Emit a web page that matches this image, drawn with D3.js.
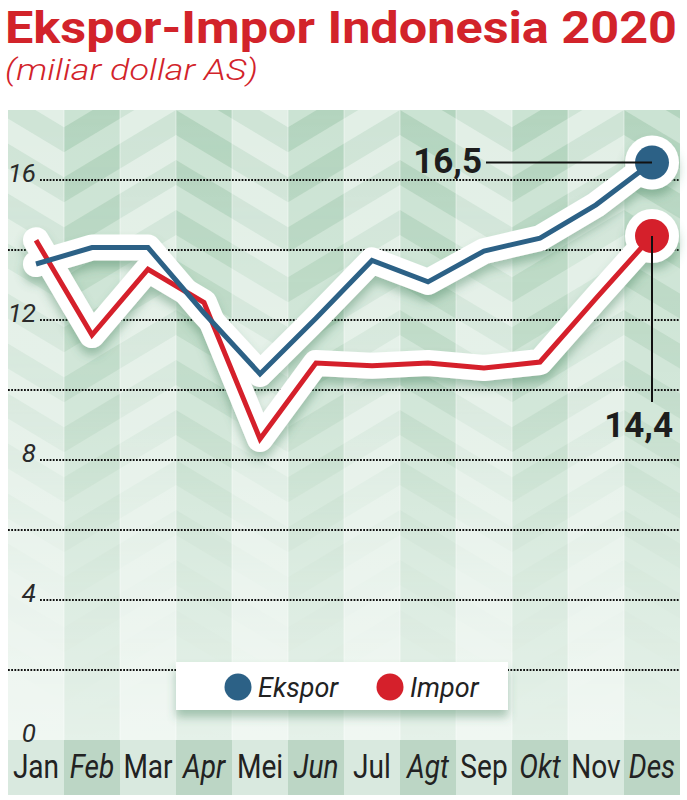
<!DOCTYPE html>
<html><head><meta charset="utf-8">
<script src="https://cdn.jsdelivr.net/npm/d3@7"></script>
<style>html,body{margin:0;padding:0;background:#fff;}svg{display:block;}</style>
</head><body>
<script>
// ---- data ----
const months = ["Jan","Feb","Mar","Apr","Mei","Jun","Jul","Agt","Sep","Okt","Nov","Des"];
const ekspor = [13.6, 14.07, 14.07, 12.2, 10.46, 12.05, 13.7, 13.09, 13.97, 14.34, 15.29, 16.5];
const impor  = [14.28, 11.57, 13.45, 12.5, 8.6, 10.77, 10.69, 10.77, 10.63, 10.8, 12.62, 14.4];
const yTickLabels = [0, 4, 8, 12, 16];
const yGrid = [2, 4, 6, 8, 10, 12, 14, 16];
const seriesNames = ["Ekspor", "Impor"];
const title = "Ekspor-Impor Indonesia 2020";
const subtitle = "(miliar dollar AS)";

const W = 687, H = 800;
const blue = "#2c6186", red = "#d5202b", titleRed = "#d2232a";
const svg = d3.select("body").append("svg").attr("width", W).attr("height", H);
const defs = svg.append("defs");

const x = d3.scaleBand().domain(months).range([8, 680]).padding(0);
const y = d3.scaleLinear().domain([0, 18]).range([740, 110]);
const cx = m => x(m) + x.bandwidth() / 2;

// title
svg.append("text").attr("x", 5).attr("y", 43).text(title)
  .attr("font-family", "Roboto").attr("font-weight", 700).attr("font-size", 45)
  .attr("fill", titleRed).attr("textLength", 672).attr("lengthAdjust", "spacingAndGlyphs");
svg.append("text").attr("x", 5).attr("y", 80).text(subtitle)
  .attr("font-family", "Roboto").attr("font-style", "italic").attr("font-weight", 300).attr("font-size", 30)
  .attr("fill", titleRed).attr("textLength", 253).attr("lengthAdjust", "spacingAndGlyphs");

// ---- background ----
const x0 = x.range()[0], x1 = x.range()[1], yTop = y(18), yBot = y(0);
const pat = defs.append("pattern").attr("id", "chev").attr("patternUnits", "userSpaceOnUse")
  .attr("width", 224).attr("height", 50).attr("x", 64).attr("y", yTop);
const s = 0.6, t = 25, half = 112, rise = half * s;
for (let k = -3; k <= 2; k++) {
  const y0 = k * 50;
  pat.append("path").attr("d",
    `M0,${rise + y0} L${half},${y0} L224,${rise + y0} L224,${rise + y0 + t} L${half},${y0 + t} L0,${rise + y0 + t} Z`)
    .attr("fill", "#7fb494").attr("fill-opacity", 0.32);
}
const fade = defs.append("linearGradient").attr("id", "fade").attr("gradientUnits", "userSpaceOnUse")
  .attr("x1", 0).attr("x2", 0).attr("y1", yTop).attr("y2", yBot);
fade.append("stop").attr("offset", "0%").attr("stop-color", "#fff").attr("stop-opacity", 1);
fade.append("stop").attr("offset", "45%").attr("stop-color", "#fff").attr("stop-opacity", 0.7);
fade.append("stop").attr("offset", "75%").attr("stop-color", "#fff").attr("stop-opacity", 0.15);
fade.append("stop").attr("offset", "100%").attr("stop-color", "#fff").attr("stop-opacity", 0);
const mask = defs.append("mask").attr("id", "fadeMask");
mask.append("rect").attr("x", x0).attr("y", yTop).attr("width", x1 - x0).attr("height", yBot - yTop).attr("fill", "url(#fade)");

const wash = defs.append("linearGradient").attr("id", "wash").attr("gradientUnits", "userSpaceOnUse")
  .attr("x1", 0).attr("x2", 0).attr("y1", yTop).attr("y2", yBot);
wash.append("stop").attr("offset", "0%").attr("stop-color", "#fff").attr("stop-opacity", 0);
wash.append("stop").attr("offset", "50%").attr("stop-color", "#fff").attr("stop-opacity", 0.15);
wash.append("stop").attr("offset", "100%").attr("stop-color", "#fff").attr("stop-opacity", 0.5);

const bg = svg.append("g");
bg.append("rect").attr("x", x0).attr("y", yTop).attr("width", x1 - x0).attr("height", yBot - yTop).attr("fill", "#d6e9dc");
bg.append("rect").attr("x", x0).attr("y", yTop).attr("width", x1 - x0).attr("height", yBot - yTop)
  .attr("fill", "url(#chev)").attr("mask", "url(#fadeMask)");
bg.selectAll("rect.col").data(months).join("rect").attr("class", "col")
  .attr("x", d => x(d)).attr("y", yTop).attr("width", x.bandwidth()).attr("height", yBot - yTop)
  .attr("fill", (d, i) => i % 2 ? "#8fbf9f" : "#ffffff")
  .attr("fill-opacity", (d, i) => i % 2 ? 0.14 : 0.3);
bg.append("rect").attr("x", x0).attr("y", yTop).attr("width", x1 - x0).attr("height", yBot - yTop).attr("fill", "url(#wash)");
bg.selectAll("line.sep").data(months.slice(1)).join("line").attr("class", "sep")
  .attr("x1", d => x(d)).attr("x2", d => x(d)).attr("y1", yTop).attr("y2", yBot)
  .attr("stroke", "#fff").attr("stroke-opacity", 0.45).attr("stroke-width", 1);

// bottom month band
const band = svg.append("g");
band.selectAll("rect").data(months).join("rect")
  .attr("x", d => x(d)).attr("y", yBot).attr("width", x.bandwidth()).attr("height", 55)
  .attr("fill", (d, i) => i % 2 ? "#bcd6c5" : "#d9e9df");
band.selectAll("text").data(months).join("text")
  .attr("transform", d => `translate(${cx(d)},778) scale(0.85,1)`)
  .attr("text-anchor", "middle").attr("font-family", "Roboto").attr("font-size", 33)
  .attr("font-style", (d, i) => i % 2 ? "italic" : "normal").attr("fill", "#222").text(d => d);

// grid lines
const grid = svg.append("g");
grid.selectAll("line").data(yGrid).join("line")
  .attr("x1", d => yTickLabels.includes(d) ? 40 : x0).attr("x2", x1)
  .attr("y1", d => y(d)).attr("y2", d => y(d))
  .attr("stroke", "#111").attr("stroke-width", 2).attr("stroke-dasharray", "1.8,1.4");
const yAxis = d3.axisLeft(y).tickValues(yTickLabels).tickSize(0).tickFormat(d3.format("d"));
const ya = svg.append("g").attr("transform", "translate(36,0)").call(yAxis);
ya.select(".domain").remove();
ya.selectAll("text").attr("font-family", "Roboto").attr("font-style", "italic").attr("font-weight", 400)
  .attr("font-size", 26).attr("fill", "#2a2a2a").attr("dy", "0.05em").attr("x", 0);

// legend + shadow
const shadow = defs.append("filter").attr("id", "shadow").attr("x", "-20%").attr("y", "-20%").attr("width", "140%").attr("height", "160%");
shadow.append("feDropShadow").attr("dx", 0).attr("dy", 7).attr("stdDeviation", 5)
  .attr("flood-color", "#3f7d5a").attr("flood-opacity", 0.4);
const lg = svg.append("g");
lg.append("rect").attr("x", 176).attr("y", 662).attr("width", 332).attr("height", 48).attr("fill", "#fff").attr("filter", "url(#shadow)");
const legendX = [238, 390];
seriesNames.forEach((n, i) => {
  lg.append("circle").attr("cx", legendX[i]).attr("cy", 687).attr("r", 13.5).attr("fill", i ? red : blue);
  lg.append("text").attr("x", legendX[i] + 20).attr("y", 697).text(n)
    .attr("font-family", "Roboto").attr("font-style", "italic").attr("font-size", 27).attr("fill", "#222");
});

// lines
const line = d3.line().x((d, i) => cx(months[i])).y(d => y(d));
const halos = svg.append("g").attr("filter", "url(#shadow)");
[impor, ekspor].forEach(data => {
  halos.append("path").attr("d", line(data)).attr("fill", "none").attr("stroke", "#fff")
    .attr("stroke-width", 26).attr("stroke-linejoin", "round").attr("stroke-linecap", "round");
});
[impor, ekspor].forEach(data => {
  halos.append("circle").attr("cx", cx(months[11])).attr("cy", y(data[11])).attr("r", 27).attr("fill", "#fff");
});
[[impor, red], [ekspor, blue]].forEach(([data, c]) => {
  svg.append("path").attr("d", line(data)).attr("fill", "none").attr("stroke", c)
    .attr("stroke-width", 5).attr("stroke-linejoin", "miter");
  svg.append("circle").attr("cx", cx(months[11])).attr("cy", y(data[11])).attr("r", 17).attr("fill", c);
});

// annotations
const fmt = v => v.toFixed(1).replace(".", ",");
const ex = cx(months[11]);
svg.append("line").attr("x1", 486).attr("x2", ex).attr("y1", y(ekspor[11])).attr("y2", y(ekspor[11]))
  .attr("stroke", "#111").attr("stroke-width", 2);
svg.append("text").attr("x", 482).attr("y", y(ekspor[11]) + 10).attr("text-anchor", "end")
  .attr("font-family", "Roboto").attr("font-weight", 700).attr("font-size", 35).attr("fill", "#1d1d1d").text(fmt(ekspor[11]));
svg.append("line").attr("x1", ex).attr("x2", ex).attr("y1", y(impor[11])).attr("y2", 402)
  .attr("stroke", "#111").attr("stroke-width", 2);
svg.append("text").attr("x", 673).attr("y", 437).attr("text-anchor", "end")
  .attr("font-family", "Roboto").attr("font-weight", 700).attr("font-size", 35).attr("fill", "#1d1d1d").text(fmt(impor[11]));
</script>
</body></html>
